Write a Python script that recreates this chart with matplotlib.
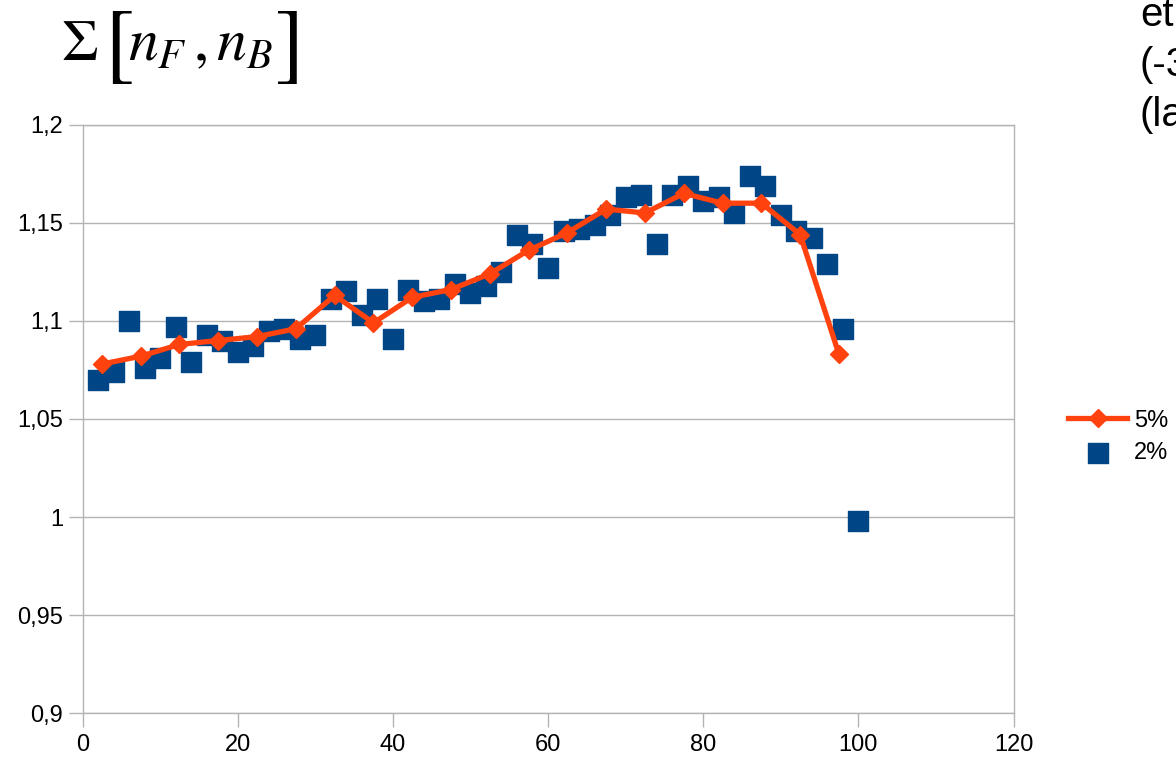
import matplotlib
matplotlib.use("Agg")
import matplotlib.pyplot as plt

plt.rcParams['font.family'] = ['Liberation Sans', 'DejaVu Sans']
plt.rcParams['mathtext.fontset'] = 'stix'

# 2% series (squares)
x_2 = list(range(2, 101, 2))
y_2 = [1.070, 1.074, 1.100, 1.076, 1.081, 1.097, 1.079, 1.093, 1.090, 1.084,
       1.087, 1.095, 1.096, 1.091, 1.093, 1.111, 1.115, 1.103, 1.111, 1.091,
       1.116, 1.110, 1.111, 1.119, 1.114, 1.118, 1.125, 1.144, 1.139, 1.127,
       1.146, 1.147, 1.149, 1.154, 1.163, 1.164, 1.139, 1.164, 1.169, 1.161,
       1.163, 1.155, 1.174, 1.169, 1.154, 1.146, 1.142, 1.129, 1.096, 0.998]

# 5% series (line with diamonds)
x_5 = [2.5, 7.5, 12.5, 17.5, 22.5, 27.5, 32.5, 37.5, 42.5, 47.5,
       52.5, 57.5, 62.5, 67.5, 72.5, 77.5, 82.5, 87.5, 92.5, 97.5]
y_5 = [1.078, 1.082, 1.088, 1.090, 1.092, 1.096, 1.113, 1.099, 1.112, 1.116,
       1.124, 1.136, 1.145, 1.157, 1.155, 1.165, 1.160, 1.160, 1.144, 1.083]

x_ticks = [0, 20, 40, 60, 80, 100, 120]
y_ticks = [0.9, 0.95, 1.0, 1.05, 1.1, 1.15, 1.2]
y_tick_labels = ['0,9', '0,95', '1', '1,05', '1,1', '1,15', '1,2']

blue = '#004586'
orange = '#ff420e'
grey = '#b3b3b3'

fig = plt.figure(figsize=(11.76, 7.61), dpi=100)
ax = fig.add_axes([82.5 / 1176, 1 - 713.3 / 761, (1013.5 - 82.5) / 1176, (713.3 - 124.7) / 761])

ax.scatter(x_2, y_2, marker='s', s=200, color=blue, label='2%', zorder=2)
ax.plot(x_5, y_5, color=orange, lw=3.8, marker='D', markersize=9, label='5%', zorder=3)

ax.set_xlim(0, 120)
ax.set_ylim(0.9, 1.2)
ax.set_xticks(x_ticks)
ax.set_yticks(y_ticks)
ax.set_yticklabels(y_tick_labels)
ax.tick_params(axis='both', labelsize=17, color=grey, length=10, width=1, direction='out')
ax.tick_params(axis='x', pad=5)
ax.tick_params(axis='y', pad=4)
ax.grid(axis='y', color=grey, lw=1)
ax.set_axisbelow(True)
for sp in ax.spines.values():
    sp.set_color(grey)
    sp.set_linewidth(1)

handles, labels = ax.get_legend_handles_labels()
fig.legend(handles[::-1], labels[::-1], loc='center left', bbox_to_anchor=(1068 / 1176, 1 - 437 / 761),
           frameon=False, fontsize=17, handlelength=2.5, handletextpad=0.3, labelspacing=0.45,
           borderpad=0, borderaxespad=0)

# formula title, brackets drawn taller than the rest
W, H = 1176, 761
fig.text(61 / W, 1 - 60 / H, r'$\Sigma$', fontsize=42, va='baseline', ha='left')
fig.text(104 / W, 1 - 47 / H, r'$[$', fontsize=64, va='center', ha='left')
fig.text(128 / W, 1 - 60 / H, r'$n_F\,,n_B$', fontsize=43, va='baseline', ha='left')
fig.text(274 / W, 1 - 47 / H, r'$]$', fontsize=64, va='center', ha='left')

fig.text(1140 / W, 1 - 15 / H, 'et', fontsize=29, va='center', ha='left')
fig.text(1140 / W, 1 - 65 / H, '(-3', fontsize=29, va='center', ha='left')
fig.text(1140 / W, 1 - 115 / H, '(la', fontsize=29, va='center', ha='left')

fig.savefig('out.png', dpi=100, facecolor='white')
